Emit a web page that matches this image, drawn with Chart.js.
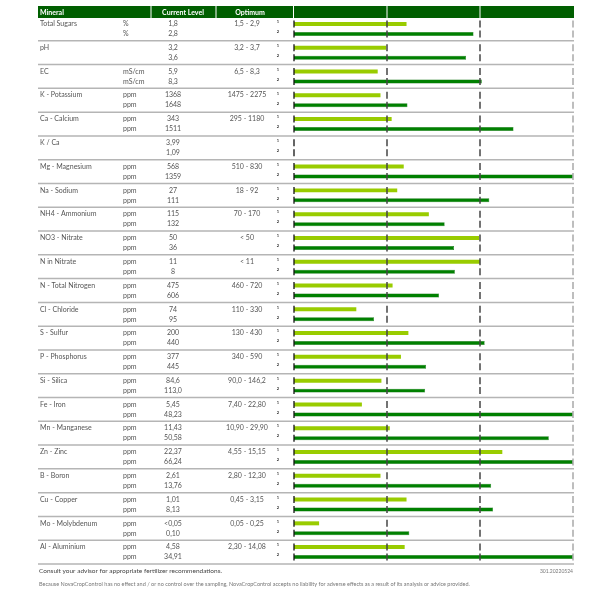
<!DOCTYPE html>
<html>
<head>
<meta charset="utf-8">
<script src="https://cdn.jsdelivr.net/npm/chart.js@4/dist/chart.umd.min.js"></script>
<style>
  body { margin: 0; background: #fff; }
  canvas { display: block; }
</style>
</head>
<body>
<canvas id="minChart" width="600" height="600"></canvas>
<script>
// table data, one entry per mineral
const minerals = ["Total Sugars", "pH", "EC", "K - Potassium", "Ca - Calcium", "K / Ca",
  "Mg - Magnesium", "Na - Sodium", "NH4 - Ammonium", "NO3 - Nitrate", "N in Nitrate",
  "N - Total Nitrogen", "Cl - Chloride", "S - Sulfur", "P - Phosphorus", "Si - Silica",
  "Fe - Iron", "Mn - Manganese", "Zn - Zinc", "B - Boron", "Cu - Copper",
  "Mo - Molybdenum", "Al - Aluminium"];
const units = ["%", "", "mS/cm", "ppm", "ppm", "", "ppm", "ppm", "ppm", "ppm", "ppm",
  "ppm", "ppm", "ppm", "ppm", "ppm", "ppm", "ppm", "ppm", "ppm", "ppm", "ppm", "ppm"];
const level1 = ["1,8", "3,2", "5,9", "1368", "343", "3,99", "568", "27", "115", "50", "11",
  "475", "74", "200", "377", "84,6", "5,45", "11,43", "22,37", "2,61", "1,01", "<0,05", "4,58"];
const level2 = ["2,8", "3,6", "8,3", "1648", "1511", "1,09", "1359", "111", "132", "36", "8",
  "606", "95", "440", "445", "113,0", "48,23", "50,58", "66,24", "13,76", "8,13", "0,10", "34,91"];
const optimum = ["1,5 - 2,9", "3,2 - 3,7", "6,5 - 8,3", "1475 - 2275", "295 - 1180", "",
  "510 - 830", "18 - 92", "70 - 170", "< 50", "< 11", "460 - 720", "110 - 330", "130 - 430",
  "340 - 590", "90,0 - 146,2", "7,40 - 22,80", "10,90 - 29,90", "4,55 - 15,15",
  "2,80 - 12,30", "0,45 - 3,15", "0,05 - 0,25", "2,30 - 14,08"];

// bar lengths on the 0..3 scale (0 | low optimum | high optimum | max)
const bar1 = [1.21, 0.99, 0.90, 0.93, 1.05, null, 1.18, 1.11, 1.45, 1.99, 2.0,
  1.06, 0.67, 1.23, 1.15, 0.94, 0.73, 1.03, 2.24, 0.93, 1.21, 0.27, 1.19];
const bar2 = [1.93, 1.85, 2.02, 1.22, 2.36, null, 3.0, 2.10, 1.62, 1.72, 1.73,
  1.56, 0.86, 2.05, 1.42, 1.41, 3.0, 2.74, 3.0, 2.12, 2.14, 1.24, 3.0];
const xTicks = [0, 1, 2, 3];

const FONT = "Lato, 'Open Sans', sans-serif";
const HEAD_GREEN = "#005f00";

const tablePlugin = {
  id: "tablePlugin",
  afterDatasetsDraw(chart) {
    const ctx = chart.ctx;
    const xs = chart.scales.x;
    const ys = chart.scales.y;
    const area = chart.chartArea;
    const m0 = chart.getDatasetMeta(0);
    const m1 = chart.getDatasetMeta(1);
    const off0 = m0.data[0].y - ys.getPixelForValue(0);
    const off1 = m1.data[0].y - ys.getPixelForValue(0);
    const step = ys.getPixelForValue(1) - ys.getPixelForValue(0);
    const left = 38, right = 574;

    ctx.save();

    // header
    ctx.fillStyle = HEAD_GREEN;
    ctx.fillRect(left, 6, right - left, 12);
    ctx.strokeStyle = "#ffffff";
    ctx.lineWidth = 1;
    [151, 216, 293.5].concat([1, 2].map(t => xs.getPixelForValue(t))).forEach(x => {
      ctx.beginPath();
      ctx.moveTo(x, 6);
      ctx.lineTo(x, 18);
      ctx.stroke();
    });
    ctx.fillStyle = "#ffffff";
    ctx.font = "bold 7px " + FONT;
    ctx.textBaseline = "middle";
    ctx.textAlign = "left";
    ctx.fillText("Mineral", 40, 12.5);
    ctx.textAlign = "center";
    ctx.fillText("Current Level", 183, 12.5);
    ctx.fillText("Optimum", 250, 12.5);

    // group separators
    ctx.strokeStyle = "#b5b5b5";
    ctx.lineWidth = 1.5;
    for (let i = 1; i <= minerals.length; i++) {
      const y = ys.getPixelForValue(i) - step / 2;
      ctx.beginPath();
      ctx.moveTo(left, y);
      ctx.lineTo(right, y);
      ctx.stroke();
    }

    // row ticks at 0, low, high, max
    minerals.forEach((m, i) => {
      const c = ys.getPixelForValue(i);
      [c + off0, c + off1].forEach(y => {
        xTicks.forEach(t => {
          const x = xs.getPixelForValue(t);
          ctx.strokeStyle = t === 0 ? "#111" : (t === 3 ? "#a8a8a8" : "#444");
          ctx.lineWidth = t === 0 ? 1.3 : 1.5;
          ctx.beginPath();
          ctx.moveTo(x, y - 3.5);
          ctx.lineTo(x, y + 3.5);
          ctx.stroke();
        });
      });
    });

    // table text
    ctx.fillStyle = "#555";
    ctx.font = "7px " + FONT;
    minerals.forEach((m, i) => {
      const c = ys.getPixelForValue(i);
      const y1 = c + off0, y2 = c + off1;
      ctx.textAlign = "left";
      ctx.fillText(m, 40, y1);
      ctx.fillText(units[i], 123, y1);
      ctx.fillText(units[i], 123, y2);
      ctx.textAlign = "center";
      ctx.fillText(level1[i], 173, y1);
      ctx.fillText(level2[i], 173, y2);
      ctx.fillText(optimum[i], 247, y1);
    });
    ctx.fillStyle = "#333";
    ctx.font = "bold 4px " + FONT;
    minerals.forEach((m, i) => {
      const c = ys.getPixelForValue(i);
      ctx.fillText("1", 278, c + off0 - 2);
      ctx.fillText("2", 278, c + off1 - 2);
    });

    // footer
    ctx.textAlign = "left";
    ctx.fillStyle = "#444";
    ctx.font = "6.5px " + FONT;
    ctx.fillText("Consult your advisor for appropriate fertilizer recommendations.", 39, area.bottom + 7);
    ctx.fillStyle = "#777";
    ctx.font = "5.5px " + FONT;
    ctx.fillText("Because NovaCropControl has no effect and / or no control over the sampling, NovaCropControl accepts no liability for adverse effects as a result of its analysis or advice provided.", 39, area.bottom + 20);
    ctx.font = "5px " + FONT;
    ctx.textAlign = "right";
    ctx.fillText("301.20220524", 573, area.bottom + 7);

    ctx.restore();
  }
};

new Chart(document.getElementById("minChart").getContext("2d"), {
  type: "bar",
  data: {
    labels: minerals,
    datasets: [
      { label: "1", data: bar1, backgroundColor: "#99cc00", borderWidth: 0 },
      { label: "2", data: bar2, backgroundColor: "#008000", borderColor: "#006a00", borderWidth: 0.5 }
    ]
  },
  options: {
    indexAxis: "y",
    responsive: false,
    animation: false,
    layout: { padding: { left: 294, right: 27, top: 17, bottom: 36 } },
    datasets: { bar: { categoryPercentage: 0.84, barPercentage: 0.4 } },
    plugins: { legend: { display: false }, tooltip: { enabled: false } },
    scales: {
      x: { display: false, min: 0, max: 3 },
      y: { display: false }
    }
  },
  plugins: [tablePlugin]
});
</script>
</body>
</html>
